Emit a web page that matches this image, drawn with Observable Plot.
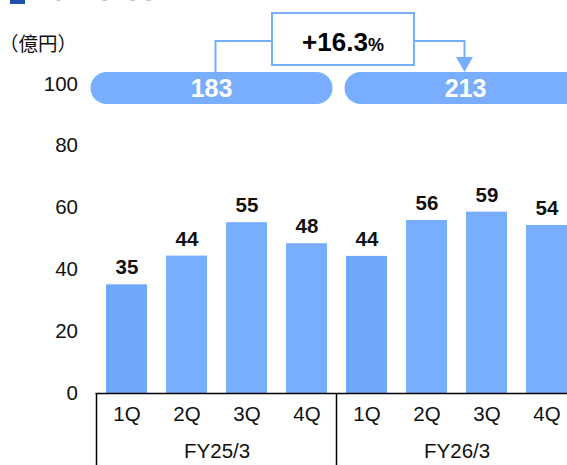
<!DOCTYPE html>
<html>
<head>
<meta charset="utf-8">
<script src="https://cdn.jsdelivr.net/npm/d3@7"></script>
<script src="https://cdn.jsdelivr.net/npm/@observablehq/plot@0.6"></script>
<style>
  html, body { margin: 0; padding: 0; background: #fff; overflow: hidden; }
  #chart svg { overflow: hidden; display: block; }
</style>
</head>
<body>
<div id="chart"></div>
<script>
// ---- data ----
const title = "経常利益";
const unitLabel = "（億円）";
const quarters = ["1Q", "2Q", "3Q", "4Q"];
const fiscalYears = ["FY25/3", "FY26/3"];
const valuesFY25 = [35.1, 44.4, 55.2, 48.4];
const valuesFY26 = [44.3, 55.9, 58.6, 54.3];
const totals = [183, 213];
const growthValue = "+16.3";
const growthUnit = "%";
const yTicks = [0, 20, 40, 60, 80, 100];

const seriesValues = [valuesFY25, valuesFY26];
const data = fiscalYears.flatMap((fy, i) =>
  quarters.map((q, j) => ({ fy, q, key: fy + "|" + q, value: seriesValues[i][j] }))
);

// ---- style ----
const barColor = "#79aefe";
const barColor1Q = "#6fa7fb";
const font = "Liberation Sans, Arial, sans-serif";
const cjk = "Noto Sans CJK JP, sans-serif";

function overlay(index, scales, values, dimensions) {
  const x = scales.x, y = scales.y;
  const bw = x.bandwidth ? x.bandwidth() : 41;
  const step = x.step ? x.step() : 60.2;
  const gap = step - bw;
  const g = d3.create("svg:g").attr("text-anchor", "start");

  // group separator lines
  fiscalYears.forEach(fy => {
    const left = x(fy + "|1Q") - gap / 2;
    g.append("line").attr("x1", left).attr("x2", left)
      .attr("y1", y(0)).attr("y2", dimensions.height)
      .attr("stroke", "#000").attr("stroke-width", 1.5);
  });

  // total pills
  const pillShift = [-5, 9];
  const pillW = 242, pillH = 32;
  const pillCenters = fiscalYears.map((fy, i) => {
    const c = (x(fy + "|1Q") - gap / 2 + x(fy + "|4Q") + bw + gap / 2) / 2;
    return c + pillShift[i];
  });
  const pillY = y(100) + 4.5;
  pillCenters.forEach((c, i) => {
    g.append("rect").attr("x", c - pillW / 2).attr("y", pillY - pillH / 2)
      .attr("width", pillW).attr("height", pillH).attr("rx", pillH / 2)
      .attr("fill", barColor);
    g.append("text").attr("x", c).attr("y", pillY + 9)
      .attr("text-anchor", "middle").attr("fill", "#fff")
      .attr("font-family", font).attr("font-weight", "bold").attr("font-size", 25)
      .text(totals[i]);
  });

  // growth bracket
  const lx = pillCenters[0] + 4, rx = pillCenters[1] - 1;
  const topY = pillY - pillH / 2;
  const by = 41;
  const boxCx = 343, boxW = 142, boxTop = 13, boxH = 52;
  const stroke = barColor;
  g.append("path")
    .attr("d", `M${lx},${topY}V${by}H${boxCx - boxW / 2}`)
    .attr("fill", "none").attr("stroke", stroke).attr("stroke-width", 2);
  g.append("path")
    .attr("d", `M${boxCx + boxW / 2},${by}H${rx}V${topY - 15}`)
    .attr("fill", "none").attr("stroke", stroke).attr("stroke-width", 2);
  g.append("path")
    .attr("d", `M${rx - 8.5},${topY - 15}H${rx + 8.5}L${rx},${topY}Z`)
    .attr("fill", stroke);
  g.append("rect").attr("x", boxCx - boxW / 2).attr("y", boxTop)
    .attr("width", boxW).attr("height", boxH)
    .attr("fill", "#fff").attr("stroke", stroke).attr("stroke-width", 2);
  const t = g.append("text").attr("x", boxCx).attr("y", 50.5)
    .attr("text-anchor", "middle").attr("fill", "#000")
    .attr("font-family", font).attr("font-weight", "bold");
  t.append("tspan").attr("font-size", 26).text(growthValue);
  t.append("tspan").attr("font-size", 18).text(growthUnit);

  // unit label
  g.append("text").attr("x", -1).attr("y", 51)
    .attr("text-anchor", "start")
    .attr("font-family", cjk).attr("font-size", 19.5).attr("fill", "#111")
    .text(unitLabel);

  // title (cropped at top)
  g.append("rect").attr("x", 10).attr("y", -12).attr("width", 15).attr("height", 16)
    .attr("fill", "#1e50a8");
  g.append("text").attr("x", 50).attr("y", -3.5)
    .attr("text-anchor", "start")
    .attr("font-family", cjk).attr("font-weight", "bold").attr("font-size", 36)
    .attr("fill", "#111").text(title);

  return g.node();
}

const chart = Plot.plot({
  width: 567,
  height: 465,
  marginLeft: 95.5,
  marginRight: 0,
  marginTop: 83.5,
  marginBottom: 72,
  style: { fontFamily: font, background: "#fff", color: "#111", overflow: "hidden" },
  x: { type: "band", domain: data.map(d => d.key), range: [95.5, 577.1], paddingInner: 0.32, paddingOuter: 0.16, axis: null },
  y: { domain: [0, 100], axis: null },
  marks: [
    Plot.barY(data, { x: "key", y: "value", fill: d => d.q === "1Q" ? barColor1Q : barColor }),
    Plot.text(data, { x: "key", y: "value", dy: -17, text: d => String(Math.round(d.value)), fontSize: 20.5, fontWeight: "bold", fill: "#111" }),
    Plot.axisY({ ticks: yTicks, tickSize: 0, tickPadding: 18, fontSize: 20.5, label: null, fill: "#111" }),
    Plot.axisX({ tickSize: 0, tickPadding: 13, fontSize: 20.5, label: null, tickFormat: d => d.split("|")[1], fill: "#111" }),
    Plot.text(fiscalYears, { x: d => d + "|2Q", y: () => 0, dx: 30.1, dy: 58, text: d => d, fontSize: 20.5, fill: "#111" }),
    Plot.ruleY([0], { stroke: "#000", strokeWidth: 1.5 }),
    overlay
  ]
});
document.getElementById("chart").appendChild(chart);
</script>
</body>
</html>
